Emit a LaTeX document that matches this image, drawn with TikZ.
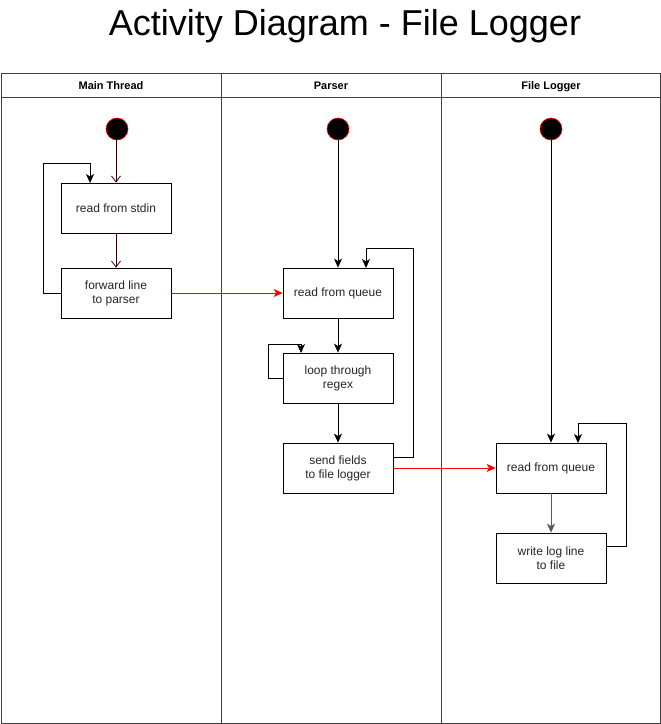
\documentclass[tikz,border=0pt]{standalone}
\usepackage{fontspec}
\setmainfont{Liberation Sans}
\usetikzlibrary{arrows.meta}
\definecolor{darkred}{HTML}{330000}
\begin{document}
\begin{tikzpicture}[x=1pt,y=-1pt,
  act/.style={draw=black,line width=0.8pt,minimum width=110pt,minimum height=50pt,align=center,inner sep=0pt,font=\fontsize{12}{14}\selectfont,text=black!85},
  startnode/.style={circle,fill=black,draw=red,line width=0.6pt,minimum size=22pt,inner sep=0pt},
  lane/.style={draw=black!75,line width=1pt},
  hdr/.style={font=\bfseries\fontsize{11}{13}\selectfont,text height=8pt,text depth=2pt,inner sep=0pt},
  flow/.style={draw=black,line width=0.8pt,-{Stealth[length=9pt,width=8pt,inset=2.5pt]}},
  redflow/.style={draw=red,line width=0.8pt,-{Stealth[length=9pt,width=8pt,inset=2.5pt]}},
  openflow/.style={draw=darkred,line width=0.8pt,-{Straight Barb[length=6pt,width=9pt]}}
]
\useasboundingbox (0,0) rectangle (661,724);
\fill[white] (0,0) rectangle (661,724);

\node (title) at (345,26) {\fontsize{36}{40}\selectfont Activity Diagram - File Logger};

% lanes
\draw[lane] (1,73) rectangle (660,723);
\draw[lane] (1,97) -- (660,97);
\draw[lane] (221,73) -- (221,723);
\draw[lane] (441,73) -- (441,723);
\node[hdr] (h1) at (111,86) {Main Thread};
\node[hdr] (h2) at (331,86) {Parser};
\node[hdr] (h3) at (551,86) {File Logger};

% main thread
\node[startnode] (s1) at (117,129) {};
\node[act] (stdin) at (116,208) {read from stdin};
\node[act] (fwd) at (116,293) {forward line\\to parser};

% parser
\node[startnode] (s2) at (338,129) {};
\node[act] (rq1) at (338,293) {read from queue};
\node[act] (regex) at (338,378) {loop through\\regex};
\node[act] (send) at (338,468) {send fields\\to file logger};

% file logger
\node[startnode] (s3) at (551,129) {};
\node[act] (rq2) at (551,468) {read from queue};
\node[act] (write) at (551,558) {write log line\\to file};

% main thread connectors
\draw[openflow] (s1.south -| stdin.north) -- (stdin.north);
\draw[openflow] (stdin) -- (fwd);
\coordinate (l1a) at (43,293);
\coordinate (l1b) at (43,163);
\coordinate (l1c) at (90,163);
\coordinate (l1d) at (90,183);
\draw[flow] (fwd.west) -- (l1a) -- (l1b) -- (l1c) -- (l1d);
\draw[redflow] (fwd.east) -- (rq1.west);

% parser connectors
\draw[flow] (s2) -- (rq1);
\draw[flow] (rq1) -- (regex);
\coordinate (l2a) at (268,378);
\coordinate (l2b) at (268,344);
\coordinate (l2c) at (301,344);
\coordinate (l2d) at (301,353);
\draw[flow] (regex.west) -- (l2a) -- (l2b) -- (l2c) -- (l2d);
\draw[flow] (regex) -- (send);
\coordinate (l3s) at (393,457);
\coordinate (l3a) at (413,457);
\coordinate (l3b) at (413,248);
\coordinate (l3c) at (366,248);
\coordinate (l3d) at (366,268);
\draw[flow] (l3s) -- (l3a) -- (l3b) -- (l3c) -- (l3d);
\draw[redflow] (send.east) -- (rq2.west);

% logger connectors
\draw[flow] (s3) -- (rq2);
\draw[flow,draw=black!65] (rq2) -- (write);
\coordinate (l4s) at (606,546);
\coordinate (l4a) at (626,546);
\coordinate (l4b) at (626,423);
\coordinate (l4c) at (578,423);
\coordinate (l4d) at (578,443);
\draw[flow] (l4s) -- (l4a) -- (l4b) -- (l4c) -- (l4d);
\end{tikzpicture}
\end{document}
